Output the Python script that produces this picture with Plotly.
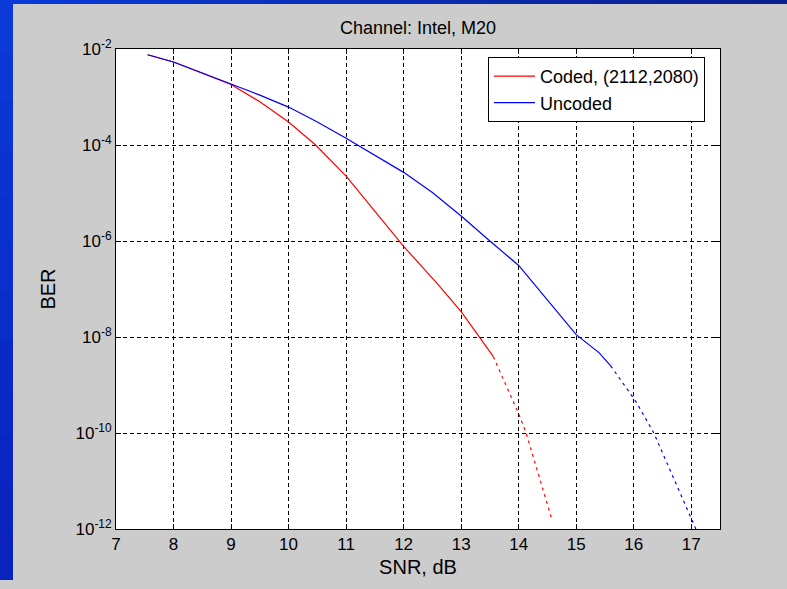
import plotly.graph_objects as go

# ---- data ----
coded_snr_solid = [7.55, 8.0, 9.0, 9.5, 10.0, 10.47, 11.0, 12.0, 12.6, 13.0, 13.56]
coded_log_solid = [-2.12, -2.27, -2.74, -3.1, -3.52, -4.0, -4.65, -6.11, -6.91, -7.47, -8.41]
coded_snr_dash = [13.56, 14.0, 14.13, 14.57]
coded_log_dash = [-8.41, -9.6, -10.0, -11.77]

unc_snr_solid = [7.55, 8.0, 9.0, 9.5, 10.0, 10.5, 11.0, 11.5, 12.0, 12.5, 13.0, 13.5, 14.0, 15.0, 15.4, 15.6]
unc_log_solid = [-2.12, -2.27, -2.73, -2.96, -3.21, -3.52, -3.86, -4.21, -4.57, -4.99, -5.48, -6.0, -6.51, -7.95, -8.33, -8.6]
unc_snr_dash = [15.6, 16.04, 16.35, 17.08]
unc_log_dash = [-8.6, -9.35, -10.0, -12.0]

y_tick_exp = [-12, -10, -8, -6, -4, -2]
x_ticks = [7, 8, 9, 10, 11, 12, 13, 14, 15, 16, 17]

title_text = "Channel: Intel, M20"
x_title = "SNR, dB"
y_title = "BER"
coded_name = "Coded, (2112,2080)"
unc_name = "Uncoded"

W, H = 787, 589
L, R, T, B = 116, 720, 49, 529  # plot area in pixels
GRAY = "#cccccc"


def px(x):
    return (x - L) / (R - L)


def py(y):
    return (B - y) / (B - T)


def rect(x0, y0, x1, y1, col, layer="below"):
    return dict(type="rect", xref="paper", yref="paper", x0=px(x0), x1=px(x1),
                y0=py(y1), y1=py(y0), fillcolor=col, line=dict(width=0), layer=layer)


FONT = "Liberation Sans, Arial, sans-serif"

fig = go.Figure()
fig.add_trace(go.Scatter(x=coded_snr_solid, y=[10 ** v for v in coded_log_solid], mode="lines",
                         line=dict(color="#ff0000", width=1.2), name=coded_name))
fig.add_trace(go.Scatter(x=unc_snr_solid, y=[10 ** v for v in unc_log_solid], mode="lines",
                         line=dict(color="#0000ff", width=1.2), name=unc_name))
fig.add_trace(go.Scatter(x=coded_snr_dash, y=[10 ** v for v in coded_log_dash], mode="lines",
                         line=dict(color="#ff0000", width=1.2, dash="3px,4px"), showlegend=False))
fig.add_trace(go.Scatter(x=unc_snr_dash, y=[10 ** v for v in unc_log_dash], mode="lines",
                         line=dict(color="#0000ff", width=1.2, dash="3px,4px"), showlegend=False))

shapes = []
# gray figure panel around the plot area (paper itself is blue)
shapes.append(rect(13, 4, L, H + 2, GRAY))
shapes.append(rect(R, 4, W + 2, H + 2, GRAY))
shapes.append(rect(L - 1, 4, R + 1, T, GRAY))
shapes.append(rect(L - 1, B, R + 1, H + 2, GRAY))
shapes.append(rect(-2, 580, 14, H + 2, GRAY))

# blue slide strips with gradient
n = 24
c0 = (11, 58, 216)
c1 = (10, 32, 144)
for i in range(n):
    t = i / (n - 1)
    col = "rgb(%d,%d,%d)" % tuple(int(c0[k] + (c1[k] - c0[k]) * t) for k in range(3))
    shapes.append(rect(W * i / n, -2, W * (i + 1) / n + 1, 4, col))
m = 12
d0 = (11, 58, 216)
d1 = (10, 34, 190)
for i in range(m):
    t = i / (m - 1)
    col = "rgb(%d,%d,%d)" % tuple(int(d0[k] + (d1[k] - d0[k]) * t) for k in range(3))
    y0 = 4 + (580 - 4) * i / m
    y1 = 4 + (580 - 4) * (i + 1) / m
    shapes.append(rect(-2, y0, 13, min(y1 + 1, 580), col))

fig.update_layout(
    width=W, height=H,
    margin=dict(l=L, r=W - R, t=T, b=H - B),
    paper_bgcolor="#0b30c0",
    plot_bgcolor="#ffffff",
    font=dict(family=FONT, size=17, color="#000000"),
    title=dict(text=title_text, x=418 / W, xanchor="center", y=1 - 28 / H, yanchor="middle",
               font=dict(family=FONT, size=18, color="#000000")),
    showlegend=True,
    legend=dict(x=px(488), y=py(57), xanchor="left", yanchor="top",
                bgcolor="#ffffff", bordercolor="#000000", borderwidth=1,
                font=dict(family=FONT, size=18, color="#000000"),
                tracegroupgap=0, itemwidth=41),
    shapes=shapes,
)

fig.update_xaxes(range=[7, 17.5], tickvals=x_ticks, ticktext=[str(v) for v in x_ticks],
                 showline=True, linecolor="#000000", linewidth=1, mirror="ticks",
                 ticks="inside", ticklen=5, tickcolor="#000000",
                 showgrid=True, gridcolor="#000000", gridwidth=1, griddash="4px,3px",
                 zeroline=False, title=dict(text=x_title, standoff=6))
fig.update_yaxes(type="log", range=[-12, -2], tickvals=[10 ** e for e in y_tick_exp],
                 ticktext=["10<sup>%d</sup>" % e for e in y_tick_exp],
                 showline=True, linecolor="#000000", linewidth=1, mirror="ticks",
                 ticks="inside", ticklen=5, tickcolor="#000000",
                 showgrid=True, gridcolor="#000000", gridwidth=1, griddash="4px,3px",
                 zeroline=False, title=dict(text=y_title, standoff=14))

fig.write_html("out.html", config={"displayModeBar": False},
               post_script="document.body.style.margin='0px';")
